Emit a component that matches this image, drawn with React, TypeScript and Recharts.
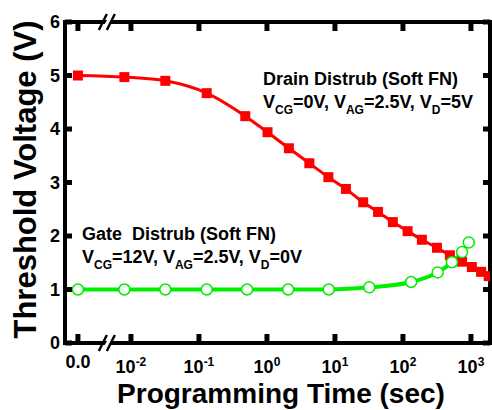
import React from 'react';
import { LineChart, Line, XAxis, YAxis, ReferenceDot, ReferenceArea, Customized, Label } from 'recharts';

// t = 0 sits left of the axis break, on the same log-decade scale
const ZERO_POS = -2.78;
const BREAK_POS = -2.34;
const X_DOMAIN = [-2.97, 3.28];
const Y_DOMAIN = [0, 6];

const drainTimes = [0, 0.008, 0.032, 0.13, 0.48, 1.02, 2.1, 4.2, 8, 14.5, 26, 43, 71, 117, 190, 316, 490, 740, 1030, 1410, 1820];
const drainVt = [5.0, 4.97, 4.9, 4.67, 4.24, 3.94, 3.64, 3.36, 3.1, 2.88, 2.63, 2.45, 2.26, 2.09, 1.93, 1.78, 1.64, 1.52, 1.42, 1.33, 1.25];

const gateTimes = [0, 0.008, 0.032, 0.13, 0.51, 2.05, 8.1, 32, 132, 324, 525, 740, 930];
const gateVt = [1.0, 1.0, 1.0, 1.0, 1.0, 1.0, 1.0, 1.04, 1.14, 1.32, 1.51, 1.7, 1.88];

const xTicks = [ZERO_POS, -2, -1, 0, 1, 2, 3];
const yTicks = [0, 1, 2, 3, 4, 5, 6];

const FONT = '"Liberation Sans", Arial, sans-serif';
const RED = '#ff0000';
const GREEN = '#00ee00';

const toPos = (t: number) => (t === 0 ? ZERO_POS : Math.log10(t));
const drainData = drainTimes.map((t, i) => ({ x: toPos(t), vt: drainVt[i] }));
const gateData = gateTimes.map((t, i) => ({ x: toPos(t), vt: gateVt[i] }));

const SquareDot = (props: any) => {
  const { cx, cy, index } = props;
  if (cx == null || cy == null) return null;
  return <rect key={`sq-${index}`} x={cx - 5} y={cy - 5} width={10} height={10} fill={RED} />;
};

const CircleDot = (props: any) => {
  const { cx, cy, index } = props;
  if (cx == null || cy == null) return null;
  return <circle key={`ci-${index}`} cx={cx} cy={cy} r={5.5} fill="#fff" stroke={GREEN} strokeWidth={1.5} />;
};

// inward tick stubs, anchored on the frame through ReferenceDot
const stub = (dir: 'up' | 'down' | 'right' | 'left') => (props: any) => {
  const { cx, cy } = props;
  if (cx == null || cy == null) return null;
  if (dir === 'up') return <line x1={cx} y1={cy} x2={cx} y2={cy - 9} stroke="#000" strokeWidth={5} />;
  if (dir === 'down') return <line x1={cx} y1={cy} x2={cx} y2={cy + 9} stroke="#000" strokeWidth={5} />;
  if (dir === 'right') return <line x1={cx} y1={cy} x2={cx + 7} y2={cy} stroke="#000" strokeWidth={5} />;
  return <line x1={cx} y1={cy} x2={cx - 7} y2={cy} stroke="#000" strokeWidth={5} />;
};
const StubUp = stub('up');
const StubDown = stub('down');
const StubRight = stub('right');
const StubLeft = stub('left');

const labelProps = { fontFamily: FONT, fontWeight: 'bold' as const, fontSize: 18, fill: '#000', stroke: 'none' };

const XTick = ({ x, y, payload }: any) => {
  const v = payload.value;
  if (v === ZERO_POS) {
    return <text x={x} y={y + 25} textAnchor="middle" {...labelProps}>0.0</text>;
  }
  return (
    <text x={x} y={y + 30} textAnchor="middle" {...labelProps}>
      <tspan>10</tspan>
      <tspan dy={-7} fontSize={12}>{String(v)}</tspan>
    </text>
  );
};

const YTick = ({ x, y, payload }: any) => (
  <text x={x - 5} y={y + 6} textAnchor="end" {...labelProps}>{payload.value}</text>
);

const BreakMark = (props: any) => {
  const { cx, cy } = props;
  if (cx == null || cy == null) return null;
  return (
    <g>
      <polygon points={`${cx - 6},${cy + 7} ${cx + 2},${cy - 7} ${cx + 6},${cy - 7} ${cx - 2},${cy + 7}`} fill="#fff" />
      <line x1={cx - 9} y1={cy + 8} x2={cx - 1} y2={cy - 8} stroke="#000" strokeWidth={2.5} />
      <line x1={cx - 1} y1={cy + 8} x2={cx + 7} y2={cy - 8} stroke="#000" strokeWidth={2.5} />
    </g>
  );
};

const textStyle = { fontFamily: FONT, fontWeight: 'bold' as const, fontSize: 18, fill: '#000', whiteSpace: 'pre' as const };

const Annotations = () => (
  <g>
    <text x={263} y={85} style={textStyle}>Drain Distrub (Soft FN)</text>
    <text x={263} y={108} style={textStyle}>
      <tspan>V</tspan>
      <tspan dy={6} fontSize={12}>CG</tspan>
      <tspan dy={-6}>=0V, V</tspan>
      <tspan dy={6} fontSize={12}>AG</tspan>
      <tspan dy={-6}>=2.5V, V</tspan>
      <tspan dy={6} fontSize={12}>D</tspan>
      <tspan dy={-6}>=5V</tspan>
    </text>
    <text x={82} y={240} style={textStyle}>Gate  Distrub (Soft FN)</text>
    <text x={82} y={263} style={textStyle}>
      <tspan>V</tspan>
      <tspan dy={6} fontSize={12}>CG</tspan>
      <tspan dy={-6}>=12V, V</tspan>
      <tspan dy={6} fontSize={12}>AG</tspan>
      <tspan dy={-6}>=2.5V, V</tspan>
      <tspan dy={6} fontSize={12}>D</tspan>
      <tspan dy={-6}>=0V</tspan>
    </text>
  </g>
);

export default function App() {
  return (
    <div style={{ position: 'absolute', left: 0, top: 0, background: '#fff' }}>
      <LineChart width={492} height={410} margin={{ top: 22, right: 2, bottom: 0, left: 0 }}>
        <XAxis
          dataKey="x"
          type="number"
          domain={X_DOMAIN}
          allowDataOverflow
          ticks={xTicks}
          interval={0}
          height={67}
          axisLine={false}
          tickLine={false}
          tickSize={0}
          tickMargin={0}
          tick={<XTick />}
        >
          <Label
            content={(p: any) => {
              const vb = p.viewBox;
              return (
                <text x={vb.x + vb.width / 2 + 3.5} y={vb.y + 60} textAnchor="middle" fontFamily={FONT} fontWeight="bold" fontSize={28} fill="#000">
                  Programming Time (sec)
                </text>
              );
            }}
          />
        </XAxis>
        <YAxis
          type="number"
          domain={Y_DOMAIN}
          ticks={yTicks}
          interval={0}
          width={65}
          axisLine={false}
          tickLine={false}
          tickSize={0}
          tickMargin={0}
          tick={<YTick />}
        >
          <Label
            content={(p: any) => {
              const vb = p.viewBox;
              const cx = vb.x + 36;
              const cy = vb.y + vb.height / 2 - 3;
              return (
                <text x={cx} y={cy} transform={`rotate(-90 ${cx} ${cy})`} textAnchor="middle" fontFamily={FONT} fontWeight="bold" fontSize={31} fill="#000">
                  Threshold Voltage (V)
                </text>
              );
            }}
          />
        </YAxis>
        <Line
          data={drainData}
          dataKey="vt"
          type="monotone"
          stroke={RED}
          strokeWidth={3}
          dot={SquareDot}
          activeDot={false}
          isAnimationActive={false}
        />
        <Line
          data={gateData}
          dataKey="vt"
          type="monotone"
          stroke={GREEN}
          strokeWidth={4}
          dot={CircleDot}
          activeDot={false}
          isAnimationActive={false}
        />
        <ReferenceArea
          x1={X_DOMAIN[0]}
          x2={X_DOMAIN[1]}
          y1={Y_DOMAIN[0]}
          y2={Y_DOMAIN[1]}
          ifOverflow="visible"
          fill="none"
          fillOpacity={0}
          stroke="#000"
          strokeWidth={4}
        />
        {xTicks.map((t) => (
          <ReferenceDot key={`xb-${t}`} x={t} y={Y_DOMAIN[0]} ifOverflow="visible" zIndex={1500} shape={StubUp} />
        ))}
        {xTicks.map((t) => (
          <ReferenceDot key={`xt-${t}`} x={t} y={Y_DOMAIN[1]} ifOverflow="visible" zIndex={1500} shape={StubDown} />
        ))}
        {yTicks.map((v) => (
          <ReferenceDot key={`yl-${v}`} x={X_DOMAIN[0]} y={v} ifOverflow="visible" zIndex={1500} shape={StubRight} />
        ))}
        {yTicks.map((v) => (
          <ReferenceDot key={`yr-${v}`} x={X_DOMAIN[1]} y={v} ifOverflow="visible" zIndex={1500} shape={StubLeft} />
        ))}
        <ReferenceDot x={BREAK_POS} y={Y_DOMAIN[1]} ifOverflow="visible" zIndex={1600} shape={BreakMark} />
        <ReferenceDot x={BREAK_POS} y={Y_DOMAIN[0]} ifOverflow="visible" zIndex={1600} shape={BreakMark} />
        <Customized component={Annotations} />
      </LineChart>
    </div>
  );
}
